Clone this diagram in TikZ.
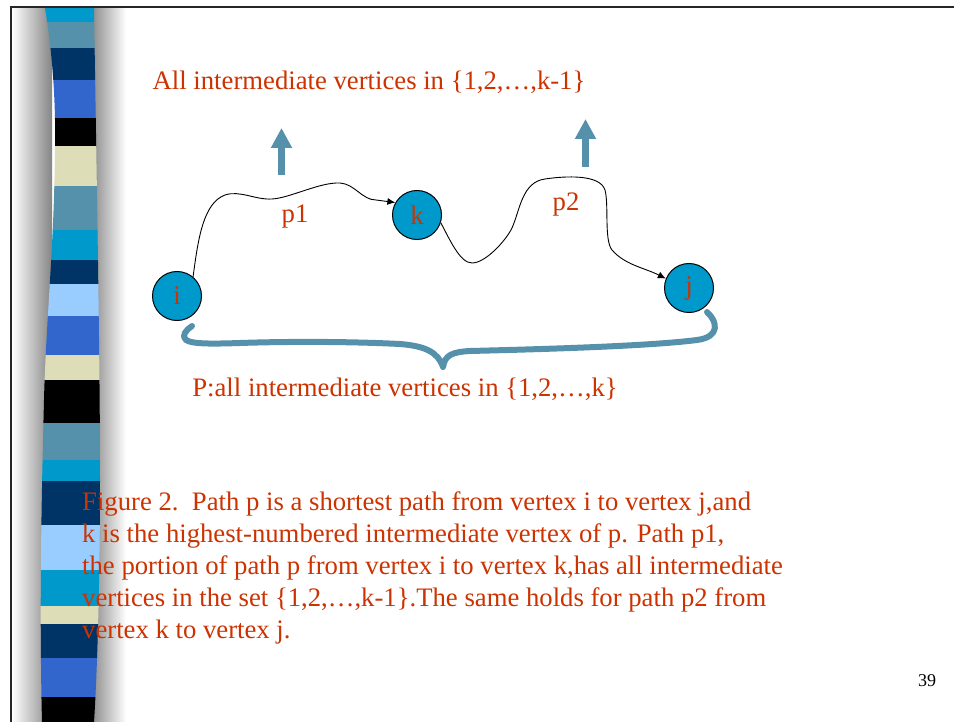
\documentclass[tikz,border=0pt]{standalone}
\usepackage{fontspec}
\setmainfont{Liberation Serif}
\usetikzlibrary{arrows.meta}
\definecolor{cyanS}{HTML}{0099CC}
\definecolor{steel}{HTML}{5591AB}
\definecolor{navy}{HTML}{003366}
\definecolor{royal}{HTML}{3366CC}
\definecolor{khaki}{HTML}{DDDDB8}
\definecolor{lightb}{HTML}{99CCFF}
\definecolor{nodeblue}{HTML}{0099CC}
\definecolor{txtred}{HTML}{CC3300}
\begin{document}
\begin{tikzpicture}[x=1pt,y=-1pt,
  vtx/.style={circle,draw=black,line width=1pt,fill=nodeblue,minimum size=49pt,inner sep=0pt,text=txtred,font=\fontsize{27}{32}\selectfont},
  lbl/.style={text=txtred,font=\fontsize{26.7}{32}\selectfont,inner sep=0pt},
  capline/.style={lbl,anchor=base west},
  pathline/.style={draw=black,line width=0.9pt},
  bluearrow/.style={draw=steel,line width=7pt,-{Triangle[length=20pt,width=20pt]}},
  bracestyle/.style={draw=steel,line width=6pt,line cap=round,line join=round}
]
\fill[white] (0,0) rectangle (954,722);
\useasboundingbox (0,0) rectangle (954,722);
% shadows around the bar
\shade[left color=white,right color=black!48] (12,8) rectangle (52,722);
\shade[left color=black!45,right color=white] (92,8) rectangle (126,722);
% striped bar
\begin{scope}
\clip (45,8) .. controls (52,50) and (56,100) .. (55,150) .. controls (54,250) and (46,320) .. (44,400) .. controls (42,480) and (39,600) .. (42,722)
  -- (94,722) .. controls (98,660) and (100,560) .. (100,480) .. controls (100,360) and (97,200) .. (94,8) -- cycle;
\foreach \a/\b/\c in {8/22/cyanS,22/48/steel,48/80/navy,80/118/royal,118/146/black,146/186/khaki,186/230/steel,230/260/cyanS,260/284/navy,284/316/lightb,316/355/royal,355/380/khaki,380/423/black,423/460/steel,460/481/cyanS,481/525/navy,525/570/lightb,570/606/cyanS,606/624/khaki,624/658/navy,658/697/royal,697/722/black}
  \fill[\c] (30,\a) rectangle (110,\b);
\end{scope}
% frame
\draw[black!85,line width=2pt] (10.5,722) -- (10.5,7.5) -- (954,7.5);
% title
\node[lbl] (top) at (369,82) {All intermediate vertices in \{1,2,…,k-1\}};
% blue arrows
\coordinate (a1s) at (281.5,175);
\coordinate (a1e) at (281.5,128);
\coordinate (a2s) at (585.5,167);
\coordinate (a2e) at (585.5,119);
\draw[bluearrow] (a1s) -- (a1e);
\draw[bluearrow] (a2s) -- (a2e);
% vertices
\node[vtx] (i) at (177,296) {i};
\node[vtx] (k) at (417,215) {k};
\node[vtx] (j) at (689,288) {j};
% paths
\draw[pathline,-{Latex[length=8pt,width=7pt]}] (i.50) .. controls (198,240) and (203,203) .. (225,195)
  .. controls (240,190) and (255,200) .. (272,199) .. controls (290,198) and (320,182) .. (340,183)
  .. controls (355,184) and (362,200) .. (376,200) -- (k.150);
\draw[pathline,-{Latex[length=8pt,width=7pt]}] (k.-18) .. controls (450,240) and (460,263) .. (472,263)
  .. controls (485,263) and (505,242) .. (512,228) .. controls (520,210) and (522,182) .. (545,179)
  .. controls (565,176) and (600,174) .. (605,190) .. controls (609,205) and (604,240) .. (612,250)
  .. controls (625,265) and (645,268) .. (j.158);
\node[lbl] (p1) at (295,217) {p1};
\node[lbl] (p2) at (566,205) {p2};
% brace
\draw[bracestyle] (192,326) .. controls (186,330) and (181,336) .. (186,340) .. controls (192,344) and (210,344) .. (240,343)
  .. controls (300,341) and (360,342) .. (400,344) .. controls (425,346) and (438,352) .. (443,367)
  .. controls (445,355) and (452,352) .. (470,351) .. controls (550,349) and (650,346) .. (697,340)
  .. controls (720,337) and (718,322) .. (707,312);
\node[lbl] (bot) at (405,389) {P:all intermediate vertices in \{1,2,…,k\}};
% caption
\node[capline] (c1) at (82,510) {Figure 2.\ \ Path p is a shortest path from vertex i to vertex j,and};
\node[capline] (c2) at (82,542) {k is the highest-numbered intermediate vertex of p. Path p1,};
\node[capline] (c3) at (82,574) {the portion of path p from vertex i to vertex k,has all intermediate};
\node[capline] (c4) at (82,606) {vertices in the set \{1,2,…,k-1\}.The same holds for path p2 from};
\node[capline] (c5) at (82,638) {vertex k to vertex j.};
\node[font=\fontsize{18}{20}\selectfont,inner sep=0pt] (num) at (927,681) {39};
\end{tikzpicture}
\end{document}
